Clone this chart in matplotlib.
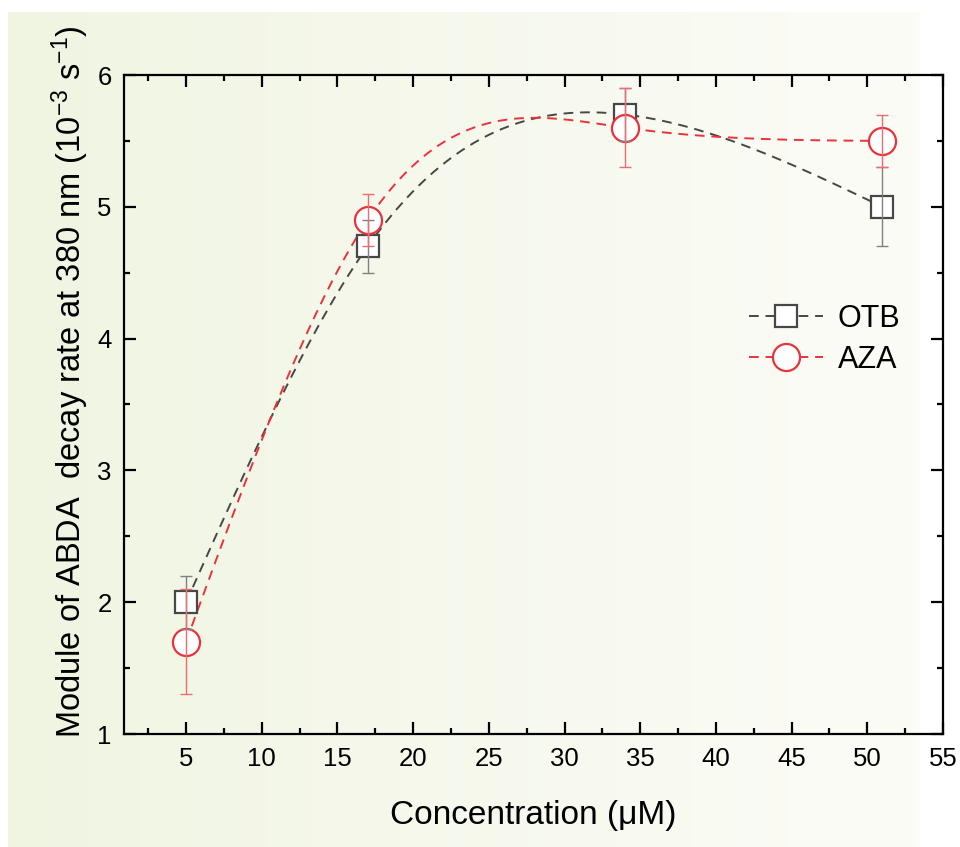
import numpy as np
import matplotlib
matplotlib.use('Agg')
import matplotlib.pyplot as plt
from matplotlib import font_manager

# data
conc = [5, 17, 34, 51]
otb = [2.0, 4.7, 5.7, 5.0]
otb_err = [0.2, 0.2, 0.2, 0.3]
aza = [1.7, 4.9, 5.6, 5.5]
aza_err = [0.4, 0.2, 0.3, 0.2]

xticks = [5, 10, 15, 20, 25, 30, 35, 40, 45, 50, 55]
yticks = [1, 2, 3, 4, 5, 6]

names = {f.name for f in font_manager.fontManager.ttflist}
narrow = 'Liberation Sans Narrow' if 'Liberation Sans Narrow' in names else 'Liberation Sans'

plt.rcParams['font.family'] = ['Liberation Sans', 'DejaVu Sans']
plt.rcParams['mathtext.fontset'] = 'custom'
plt.rcParams['mathtext.rm'] = narrow
plt.rcParams['mathtext.default'] = 'regular'


def natural_spline(x, y, n=300):
    """Natural cubic spline through the points, used only to draw the smooth line."""
    x = np.asarray(x, float)
    y = np.asarray(y, float)
    k = len(x)
    h = np.diff(x)
    A = np.zeros((k, k))
    b = np.zeros(k)
    A[0, 0] = A[-1, -1] = 1
    for i in range(1, k - 1):
        A[i, i - 1] = h[i - 1]
        A[i, i] = 2 * (h[i - 1] + h[i])
        A[i, i + 1] = h[i]
        b[i] = 6 * ((y[i + 1] - y[i]) / h[i] - (y[i] - y[i - 1]) / h[i - 1])
    M = np.linalg.solve(A, b)
    xs = np.linspace(x[0], x[-1], n)
    idx = np.clip(np.searchsorted(x, xs) - 1, 0, k - 2)
    x0, x1 = x[idx], x[idx + 1]
    hh = x1 - x0
    t0, t1 = x1 - xs, xs - x0
    ys = (M[idx] * t0 ** 3 + M[idx + 1] * t1 ** 3) / (6 * hh) \
        + (y[idx] / hh - M[idx] * hh / 6) * t0 + (y[idx + 1] / hh - M[idx + 1] * hh / 6) * t1
    return xs, ys


fig = plt.figure(figsize=(9.6, 8.47), dpi=100)

# greenish panel fading to white
bg = fig.add_axes([8 / 960, 0, 912 / 960, 1 - 12 / 847], zorder=-5)
left_c = np.array([240, 245, 226]) / 255
right_c = np.array([252, 252, 247]) / 255
t = np.linspace(0, 1, 256)[None, :, None]
grad = left_c * (1 - t) + right_c * t
bg.imshow(grad, aspect='auto', extent=[0, 1, 0, 1])
bg.axis('off')

ax = fig.add_axes([124 / 960, 1 - 734 / 847, (943 - 124) / 960, (734 - 75) / 847])
ax.patch.set_visible(False)

gray = '#474747'
red = '#e8333a'

xs, ys = natural_spline(conc, otb)
ax.plot(xs, ys, color=gray, lw=1.4, dashes=(5, 3.5), zorder=2)
xs, ys = natural_spline(conc, aza)
ax.plot(xs, ys, color=red, lw=1.4, dashes=(5, 3.5), zorder=2)

ax.plot(conc, otb, ls='none', marker='s', ms=16.5, mfc='white', mec=gray, mew=1.6, zorder=3)
ax.plot(conc, aza, ls='none', marker='o', ms=19.5, mfc='white', mec=red, mew=1.6, zorder=3)

ax.errorbar(conc, otb, yerr=otb_err, fmt='none', ecolor='#808080', elinewidth=1.0,
            capsize=4.5, capthick=1.0, zorder=4)
ax.errorbar(conc, aza, yerr=aza_err, fmt='none', ecolor='#ee6b6f', elinewidth=1.0,
            capsize=4.5, capthick=1.0, zorder=4)

# legend proxies
h1, = ax.plot([], [], color=gray, lw=1.4, dashes=(5, 3.5), marker='s', ms=16.5,
              mfc='white', mec=gray, mew=1.6)
h2, = ax.plot([], [], color=red, lw=1.4, dashes=(5, 3.5), marker='o', ms=19.5,
              mfc='white', mec=red, mew=1.6)
ax.legend([h1, h2], ['OTB', 'AZA'], frameon=False, fontsize=22, handlelength=2.4,
          handletextpad=0.5, labelspacing=0.35, loc='center left',
          bbox_to_anchor=(0.73, 0.599))

ax.set_xlim(0.9, 55)
ax.set_ylim(1, 6)
ax.set_xticks(xticks)
ax.set_xticks(np.arange(2.5, 55, 5), minor=True)
ax.set_yticks(yticks)
ax.set_yticks(np.arange(1.5, 6, 1), minor=True)

for s in ax.spines.values():
    s.set_linewidth(1.6)
ax.tick_params(which='both', direction='in', top=True, right=True, width=1.6)
ax.tick_params(which='major', length=8.5, labelsize=18.5, pad=9)
ax.tick_params(which='minor', length=4)

ax.set_xlabel('Concentration (\u03bcM)', fontsize=24, labelpad=21)
ax.set_ylabel('Module of ABDA  decay rate at 380 nm (10$^{-3}$ s$^{-1}$)',
              fontsize=23.5, family=[narrow, 'DejaVu Sans'])
ax.yaxis.set_label_coords(-0.040, 0.534)

fig.savefig('out.png', dpi=100)
